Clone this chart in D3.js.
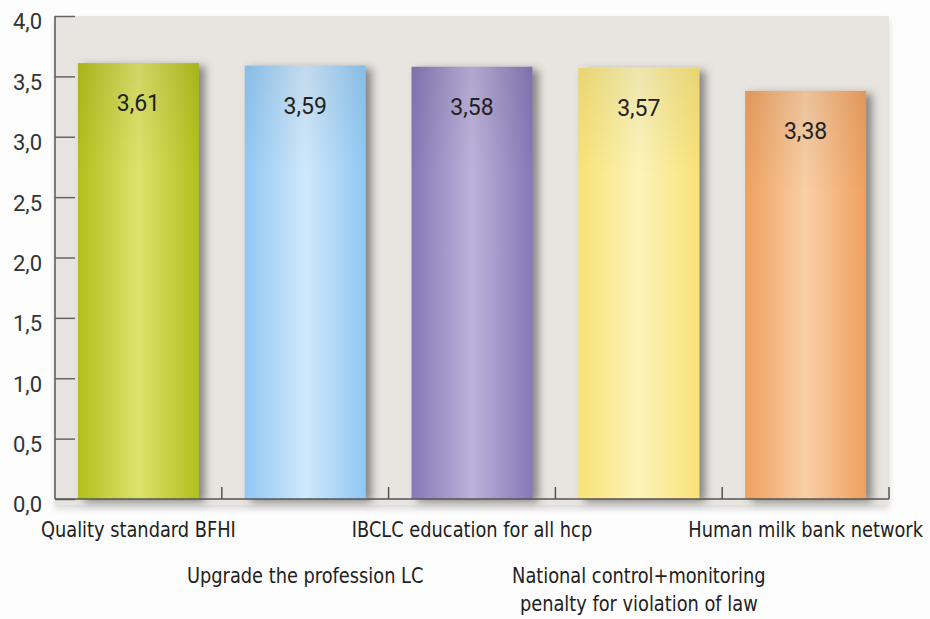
<!DOCTYPE html>
<html><head><meta charset="utf-8">
<script src="https://cdn.jsdelivr.net/npm/d3@7"></script>
<style>html,body{margin:0;padding:0;background:#fdfdfd;}</style>
</head><body>
<svg id="chart" width="930" height="619"></svg>
<script>
const categories = ["Quality standard BFHI","Upgrade the profession LC","IBCLC education for all hcp","National control+monitoring\npenalty for violation of law","Human milk bank network"];
const values = [3.61, 3.59, 3.58, 3.57, 3.38];
const yTicks = [0,0.5,1,1.5,2,2.5,3,3.5,4];
const edgeColors = ["#b3bf1c","#8fc8f4","#8677b6","#f8e276","#efa05e"];
const midColors  = ["#dce36c","#d0e8fb","#bdb2da","#fcf4ba","#f9cfa6"];

const svg = d3.select("#chart");
const m = {l:55, r:889, t:16, b:499};
const x = d3.scaleBand().domain(categories).range([m.l, m.r]).paddingInner(0.275).paddingOuter(0.1375);
const y = d3.scaleLinear().domain([0,4]).range([m.b, m.t]);
const defs = svg.append("defs");

const sh = defs.append("filter").attr("id","sh").attr("x","-20%").attr("y","-20%").attr("width","150%").attr("height","140%");
sh.append("feDropShadow").attr("dx",6).attr("dy",3).attr("stdDeviation",4).attr("flood-color","#444").attr("flood-opacity",0.6);
const psh = defs.append("filter").attr("id","psh").attr("x","-5%").attr("y","-5%").attr("width","110%").attr("height","115%");
psh.append("feDropShadow").attr("dx",0).attr("dy",4).attr("stdDeviation",3).attr("flood-color","#999").attr("flood-opacity",0.35);

categories.forEach((c,i)=>{
  const g = defs.append("linearGradient").attr("id","g"+i).attr("x1","0").attr("x2","1").attr("y1","0").attr("y2","0");
  g.append("stop").attr("offset","0").attr("stop-color",edgeColors[i]);
  g.append("stop").attr("offset","0.5").attr("stop-color",midColors[i]);
  g.append("stop").attr("offset","1").attr("stop-color",edgeColors[i]);
});
const tg = defs.append("linearGradient").attr("id","tg").attr("x1","0").attr("x2","0").attr("y1","0").attr("y2","1");
tg.append("stop").attr("offset","0").attr("stop-color","#000").attr("stop-opacity",0.06);
tg.append("stop").attr("offset","0.25").attr("stop-color","#000").attr("stop-opacity",0);

// plot background
svg.append("rect").attr("x",m.l).attr("y",m.t).attr("width",m.r-m.l).attr("height",y(0)-m.t+6)
  .attr("fill","#e8e5e0").attr("filter","url(#psh)");

// bars
const bars = svg.append("g").selectAll("g").data(values).join("g");
bars.append("rect")
  .attr("x",(d,i)=>x(categories[i])).attr("y",d=>y(d))
  .attr("width",x.bandwidth()).attr("height",d=>y(0)-y(d))
  .attr("fill",(d,i)=>`url(#g${i})`).attr("filter","url(#sh)");
bars.append("rect")
  .attr("x",(d,i)=>x(categories[i])).attr("y",d=>y(d))
  .attr("width",x.bandwidth()).attr("height",d=>y(0)-y(d))
  .attr("fill","url(#tg)");
bars.append("text")
  .attr("x",(d,i)=>x(categories[i])+x.bandwidth()/2).attr("y",d=>y(d)+48)
  .attr("text-anchor","middle").attr("font-family","Roboto").attr("font-size",23)
  .attr("fill","#222").text(d=>d.toFixed(2).replace(".",","));

// y axis
const yAxis = d3.axisRight(y).tickValues(yTicks).tickSize(20).tickFormat(d=>d.toFixed(1).replace(".",","));
const ya = svg.append("g").attr("transform",`translate(${m.l},0)`).call(yAxis);
ya.select(".domain").attr("stroke","#555").attr("stroke-width",1.5).attr("d",`M0,${m.t}V${m.b}`);
ya.selectAll(".tick line").attr("stroke","#666").attr("stroke-width",1.5);
ya.selectAll(".tick text").attr("x",-13).attr("dy","0.95em").attr("text-anchor","end")
  .attr("font-family","Roboto").attr("font-size",22).attr("fill","#333").attr("transform","translate(0,-8)");

// x axis
svg.append("line").attr("x1",m.l).attr("x2",m.r).attr("y1",y(0)).attr("y2",y(0)).attr("stroke","#555").attr("stroke-width",1.5);
const step = x.step();
const bounds = categories.map((c,i)=>x(c)+x.bandwidth()/2+step/2);
svg.append("g").selectAll("line").data(bounds).join("line")
  .attr("x1",d=>d).attr("x2",d=>d).attr("y1",y(0)).attr("y2",y(0)-12).attr("stroke","#555").attr("stroke-width",1.5);

// category labels, alternating rows, condensed horizontally
const rowBase = [537, 583];
const xl = svg.append("g").selectAll("g").data(categories).join("g")
  .attr("transform",(d,i)=>`translate(${x(d)+x.bandwidth()/2},${rowBase[i%2]}) scale(0.9,1)`);
xl.append("text")
  .attr("text-anchor","middle").attr("font-family","DejaVu Sans Condensed").attr("font-size",22).attr("fill","#222")
  .each(function(d){
    const t = d3.select(this);
    d.split("\n").forEach((p,j)=>t.append("tspan").attr("x",0).attr("dy",j===0?0:28).text(p));
  });
</script>
</body></html>
